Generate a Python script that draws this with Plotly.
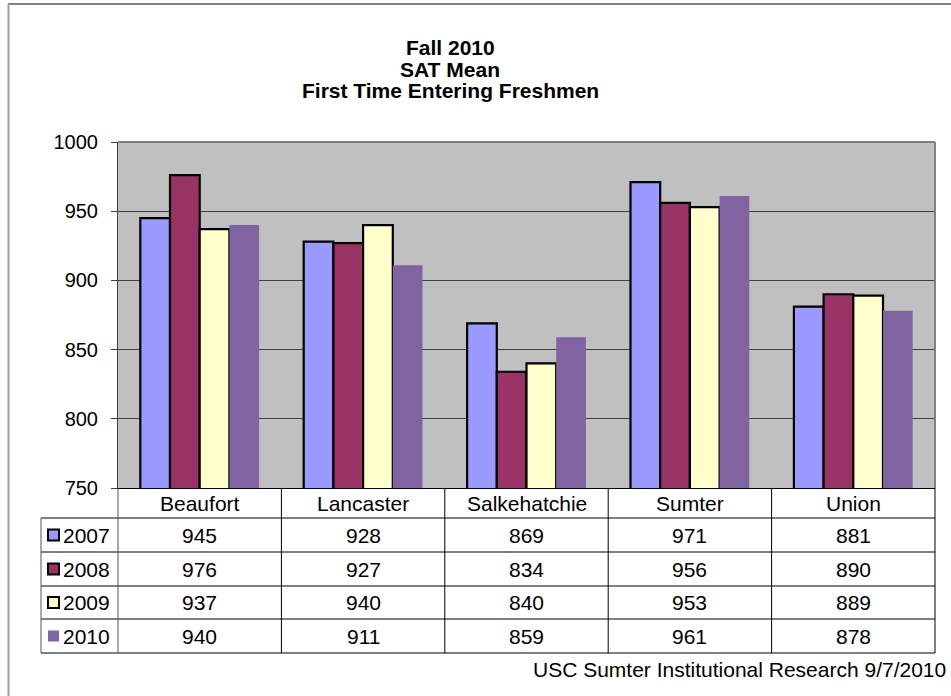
import plotly.graph_objects as go

# ---- data ----
categories = ["Beaufort", "Lancaster", "Salkehatchie", "Sumter", "Union"]
series_names = ["2007", "2008", "2009", "2010"]
values_2007 = [945, 928, 869, 971, 881]
values_2008 = [976, 927, 834, 956, 890]
values_2009 = [937, 940, 840, 953, 889]
values_2010 = [940, 911, 859, 961, 878]
series_values = [values_2007, values_2008, values_2009, values_2010]
title_lines = ["Fall 2010", "SAT Mean", "First Time Entering Freshmen"]
footer_text = "USC Sumter Institutional Research 9/7/2010"
y_range = [750, 1000]

# ---- styles ----
W, H = 951, 696
FONT = "Liberation Sans, Arial, sans-serif"
colors = ["#9999FF", "#993366", "#FFFFCC", "#8064A2"]
outlines = [True, True, True, False]
PL, PR, PT, PB = 118, 935, 142, 488  # plot area in pixels
row_edges = [488, 518, 552, 586, 619, 653]
TABLE_LEFT = 41


def px(x):
    return x / W


def py(y):
    return 1 - y / H


fig = go.Figure()
for name, vals, col, ol in zip(series_names, series_values, colors, outlines):
    fig.add_trace(go.Bar(
        x=categories, y=vals, name=name,
        marker=dict(color=col,
                    line=dict(color="black", width=2.2 if ol else 0)),
    ))

shapes = []
annotations = []

# outer chart border
shapes.append(dict(type="line", xref="paper", yref="paper",
                   x0=px(8), x1=px(951), y0=py(4), y1=py(4),
                   line=dict(color="#555555", width=1.5)))
shapes.append(dict(type="line", xref="paper", yref="paper",
                   x0=px(8.5), x1=px(8.5), y0=py(4), y1=py(696),
                   line=dict(color="#A0A0A0", width=2)))

# plot area border top/right
shapes.append(dict(type="line", xref="paper", yref="paper",
                   x0=px(PL), x1=px(PR), y0=py(PT), y1=py(PT),
                   line=dict(color="#808080", width=2)))
shapes.append(dict(type="line", xref="paper", yref="paper",
                   x0=px(PR), x1=px(PR), y0=py(PT), y1=py(PB),
                   line=dict(color="#808080", width=2)))

# data table lines
ncat = len(categories)
colw = (PR - PL) / ncat
for ye in row_edges[1:]:
    shapes.append(dict(type="line", xref="paper", yref="paper",
                       x0=px(TABLE_LEFT), x1=px(PR), y0=py(ye), y1=py(ye),
                       line=dict(color="black", width=1)))
shapes.append(dict(type="line", xref="paper", yref="paper",
                   x0=px(TABLE_LEFT), x1=px(TABLE_LEFT),
                   y0=py(row_edges[1]), y1=py(row_edges[-1]),
                   line=dict(color="#555555", width=1)))
for k in range(ncat + 1):
    xx = PL + k * colw
    shapes.append(dict(type="line", xref="paper", yref="paper",
                       x0=px(xx), x1=px(xx),
                       y0=py(row_edges[0]), y1=py(row_edges[-1]),
                       line=dict(color="black" if k > 0 else "#555555", width=1)))

# category header texts
for k, c in enumerate(categories):
    annotations.append(dict(x=px(PL + (k + 0.5) * colw), y=py((row_edges[0] + row_edges[1]) / 2),
                            xref="paper", yref="paper", text=c, showarrow=False,
                            xanchor="center", yanchor="middle",
                            font=dict(family=FONT, size=21, color="black")))

# rows
for r, (name, vals, col, ol) in enumerate(zip(series_names, series_values, colors, outlines)):
    yc = (row_edges[r + 1] + row_edges[r + 2]) / 2
    shapes.append(dict(type="rect", xref="paper", yref="paper",
                       x0=px(48), x1=px(59), y0=py(yc - 5.5), y1=py(yc + 5.5),
                       fillcolor=col,
                       line=dict(color="black", width=2 if ol else 0)))
    annotations.append(dict(x=px(61), y=py(yc), xref="paper", yref="paper",
                            text=name, showarrow=False, xanchor="left", yanchor="middle",
                            font=dict(family=FONT, size=21, color="black")))
    for k, v in enumerate(vals):
        annotations.append(dict(x=px(PL + (k + 0.5) * colw), y=py(yc),
                                xref="paper", yref="paper", text=str(v), showarrow=False,
                                xanchor="center", yanchor="middle",
                                font=dict(family=FONT, size=21, color="black")))

# title
for t, yc in zip(title_lines, [47.5, 69.5, 90.5]):
    annotations.append(dict(x=px(450), y=py(yc), xref="paper", yref="paper",
                            text="<b>" + t + "</b>", showarrow=False,
                            xanchor="center", yanchor="middle",
                            font=dict(family=FONT, size=21, color="black")))

# footer
annotations.append(dict(x=px(948), y=py(669), xref="paper", yref="paper",
                        text=footer_text, showarrow=False,
                        xanchor="right", yanchor="middle",
                        font=dict(family=FONT, size=21, color="black")))

fig.update_layout(
    width=W, height=H,
    margin=dict(l=0, r=0, t=0, b=0, autoexpand=False),
    paper_bgcolor="white",
    plot_bgcolor="#C0C0C0",
    barmode="group",
    bargap=0.273,
    bargroupgap=0,
    showlegend=False,
    shapes=shapes,
    annotations=annotations,
    xaxis=dict(domain=[px(PL), px(PR)], range=[-0.5, 4.5], showticklabels=False,
               ticks="", showgrid=False, zeroline=False, automargin=False,
               showline=True, linecolor="black", linewidth=1),
    yaxis=dict(domain=[py(PB), py(PT)], range=y_range, dtick=50,
               ticks="outside", ticklen=6, tickcolor="#404040",
               showline=True, linecolor="#404040", linewidth=1,
               showgrid=True, gridcolor="#404040", gridwidth=1,
               zeroline=False, ticklabelstandoff=9, automargin=False,
               tickfont=dict(family=FONT, size=20, color="black")),
)

fig.write_html(
    "out.html",
    config={"displayModeBar": False},
    post_script=(
        "var gd=document.getElementById('{plot_id}');"
        "gd.style.position='absolute';gd.style.top='0px';gd.style.left='0px';"
        "document.body.style.margin='0';document.body.style.padding='0';"
        "document.body.style.overflow='hidden';"
        "document.documentElement.style.overflow='hidden';"
        "document.documentElement.style.height='696px';"
        "document.body.style.height='696px';"
    ),
)
